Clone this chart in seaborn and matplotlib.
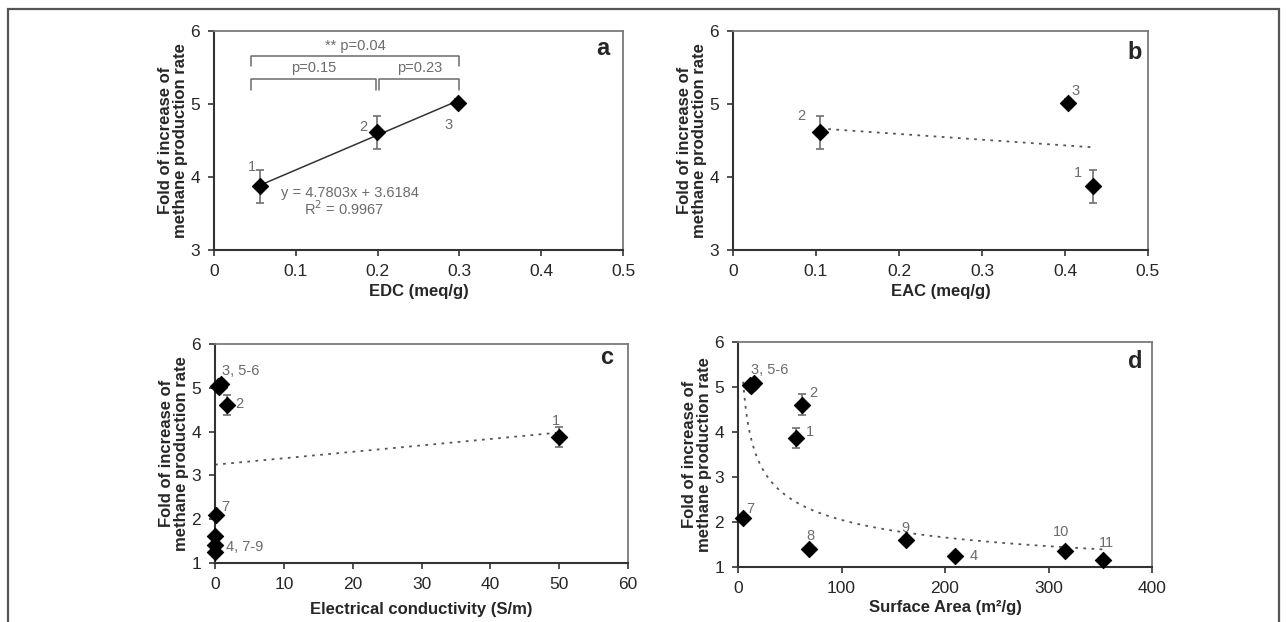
import numpy as np
import pandas as pd
import matplotlib
matplotlib.use("Agg")
import matplotlib.pyplot as plt
import seaborn as sns
from matplotlib.patches import Rectangle

sns.set_style("ticks")
plt.rcParams['font.family'] = ['Liberation Sans', 'DejaVu Sans']

# ---------------- data ----------------
# panel a : EDC
edc_x = [0.056, 0.199, 0.298]
edc_y = [3.87, 4.61, 5.02]
edc_err = [0.23, 0.23, 0.05]
edc_lab = ["1", "2", "3"]

# panel b : EAC
eac_x = [0.434, 0.105, 0.404]
eac_y = [3.87, 4.61, 5.02]
eac_err = [0.23, 0.23, 0.05]
eac_lab = ["1", "2", "3"]

# panel c : electrical conductivity (samples 1-9)
ec_x = [50.0, 1.7, 0.6, 0.0, 0.8, 0.4, 0.1, 0.0, 0.0]
ec_y = [3.87, 4.61, 5.02, 1.24, 5.08, 5.05, 2.10, 1.41, 1.61]
ec_err = [0.23, 0.23, 0.05, 0, 0, 0, 0, 0, 0]
ec_lab = ["1", "2", "3, 5-6", "7", "4, 7-9"]

# panel d : surface area (samples 1-11)
sa_x = [55.8, 62.0, 13.0, 210.0, 15.0, 12.0, 5.0, 69.0, 162.0, 316.0, 353.0]
sa_y = [3.87, 4.61, 5.02, 1.24, 5.08, 5.05, 2.10, 1.41, 1.61, 1.36, 1.16]
sa_err = [0.23, 0.23, 0.05, 0, 0, 0, 0, 0, 0, 0, 0]
sa_lab = ["1", "2", "3, 5-6", "4", "7", "8", "9", "10", "11"]

eq_text = "y = 4.7803x + 3.6184"
r2_text = "R$^2$ = 0.9967"
p_texts = ["** p=0.04", "p=0.15", "p=0.23"]

ylab = "Fold of increase of\nmethane production rate"

# ---------------- figure ----------------
fig = plt.figure(figsize=(12.87, 6.22), dpi=100)
W, H = 1287, 622

def px_axes(l, r, t, b):
    return fig.add_axes([l / W, 1 - b / H, (r - l) / W, (b - t) / H])

ax_a = px_axes(214, 623, 31, 250)
ax_b = px_axes(733, 1148, 31, 250)
ax_c = px_axes(215, 628, 344, 563)
ax_d = px_axes(738, 1152, 342, 567)

GRAY = "#6b6b6b"
ERRC = "#707070"
TXT = dict(color=GRAY, fontsize=10.5)

def style(ax, xlim, ylim, xticks, yticks, xlabel, letter, lpos, xpad):
    ax.set_xlim(*xlim)
    ax.set_ylim(*ylim)
    ax.set_xticks(xticks)
    ax.set_yticks(yticks)
    ax.set_xticklabels([("%g" % v) for v in xticks], fontsize=12.5)
    ax.set_yticklabels([("%g" % v) for v in yticks], fontsize=12.5)
    ax.set_xlabel(xlabel, fontsize=12, fontweight="bold", labelpad=xpad)
    ax.set_ylabel(ylab, fontsize=12, fontweight="bold", labelpad=2, linespacing=1.0)
    ax.tick_params(direction="out", length=4, width=1.2, color="#333333", pad=6)
    for s in ["left", "bottom"]:
        ax.spines[s].set_color("#333333")
        ax.spines[s].set_linewidth(1.5)
    for s in ["top", "right"]:
        ax.spines[s].set_visible(True)
        ax.spines[s].set_color("#7a7a7a")
        ax.spines[s].set_linewidth(1.3)
    ax.text(lpos[0], lpos[1], letter, transform=ax.transAxes, fontsize=17,
            fontweight="bold", ha="center", va="center")

def points(ax, x, y, err, ms=70):
    ax.errorbar(x, y, yerr=err, fmt="none", ecolor=ERRC, elinewidth=1.2,
                capsize=3, capthick=1.2, zorder=2)
    df = pd.DataFrame({"x": x, "y": y})
    sns.scatterplot(data=df, x="x", y="y", ax=ax, marker="D", s=ms,
                    color="black", edgecolor="black", zorder=3, legend=False)

# ---- panel a ----
dfa = pd.DataFrame({"x": edc_x, "y": edc_y})
sns.regplot(data=dfa, x="x", y="y", ax=ax_a, scatter=False, ci=None,
            line_kws=dict(color="#333333", lw=1.1))
points(ax_a, edc_x, edc_y, edc_err)
for (tx, ty), t in zip([(0.046, 4.14), (0.183, 4.68), (0.287, 4.71)], edc_lab):
    ax_a.text(tx, ty, t, ha="center", va="center", **TXT)
ax_a.text(0.166, 3.78, eq_text, ha="center", va="center", **TXT)
ax_a.text(0.159, 3.56, r2_text, ha="center", va="center", **TXT)
# significance brackets
def bracket(ax, x0, x1, ytop, ybot, text, ty):
    ax.plot([x0, x0, x1, x1], [ybot, ytop, ytop, ybot], color=GRAY, lw=1.1)
    ax.text((x0 + x1) / 2, ty, text, ha="center", va="center", **TXT)
bracket(ax_a, 0.045, 0.30, 5.66, 5.52, p_texts[0], 5.79)
bracket(ax_a, 0.045, 0.198, 5.34, 5.19, p_texts[1], 5.49)
bracket(ax_a, 0.202, 0.30, 5.34, 5.19, p_texts[2], 5.49)
style(ax_a, (0, 0.5), (3, 6), [0, 0.1, 0.2, 0.3, 0.4, 0.5], [3, 4, 5, 6],
      "EDC (meq/g)", "a", (0.951, 0.922), 4)

# ---- panel b ----
dfb = pd.DataFrame({"x": eac_x, "y": eac_y})
sns.regplot(data=dfb, x="x", y="y", ax=ax_b, scatter=False, ci=None,
            line_kws=dict(color="#555555", lw=1.3, ls=(0, (1.5, 3))))
points(ax_b, eac_x, eac_y, eac_err)
for (tx, ty), t in zip([(0.416, 4.05), (0.082, 4.83), (0.413, 5.18)], eac_lab):
    ax_b.text(tx, ty, t, ha="center", va="center", **TXT)
style(ax_b, (0, 0.5), (3, 6), [0, 0.1, 0.2, 0.3, 0.4, 0.5], [3, 4, 5, 6],
      "EAC (meq/g)", "b", (0.969, 0.904), 4)

# ---- panel c ----
dfc = pd.DataFrame({"x": ec_x, "y": ec_y})
sns.regplot(data=dfc, x="x", y="y", ax=ax_c, scatter=False, ci=None,
            line_kws=dict(color="#555555", lw=1.3, ls=(0, (1.5, 3))))
points(ax_c, ec_x, ec_y, ec_err)
for (tx, ty, ha), t in zip([(49.5, 4.25, "center"), (3.0, 4.62, "left"),
                            (1.0, 5.38, "left"), (0.9, 2.28, "left"),
                            (1.6, 1.37, "left")], ec_lab):
    ax_c.text(tx, ty, t, ha=ha, va="center", **TXT)
for c in ax_c.collections:
    c.set_clip_on(False)
style(ax_c, (0, 60), (1, 6), [0, 10, 20, 30, 40, 50, 60], [1, 2, 3, 4, 5, 6],
      "Electrical conductivity (S/m)", "c", (0.949, 0.94), 7)

# ---- panel d ----
b_fit, ln_a = np.polyfit(np.log(sa_x), np.log(sa_y), 1)
xs = np.linspace(min(sa_x), max(sa_x), 300)
dfd_fit = pd.DataFrame({"x": xs, "y": np.exp(ln_a) * xs ** b_fit})
sns.lineplot(data=dfd_fit, x="x", y="y", ax=ax_d, color="#555555", lw=1.3,
             ls=(0, (1.5, 3)))
points(ax_d, sa_x, sa_y, sa_err)
for c in ax_d.collections:
    c.set_clip_on(False)
for (tx, ty, ha), t in zip([(66, 4.0, "left"), (69, 4.87, "left"),
                            (12.5, 5.37, "left"), (228, 1.24, "center"),
                            (8.4, 2.28, "left"), (70, 1.69, "center"),
                            (162, 1.87, "center"), (312, 1.77, "center"),
                            (356, 1.53, "center")], sa_lab):
    ax_d.text(tx, ty, t, ha=ha, va="center", **TXT)
style(ax_d, (0, 400), (1, 6), [0, 100, 200, 300, 400], [1, 2, 3, 4, 5, 6],
      "Surface Area (m²/g)", "d", (0.959, 0.912), 3)

# outer frame of the figure panel
fig.patches.append(Rectangle((8 / W, -0.05), (1279 - 8) / W, 1.05 - 9 / H,
                             transform=fig.transFigure, fill=False,
                             edgecolor="#555555", lw=1.6))

fig.savefig("out.png", dpi=100)
